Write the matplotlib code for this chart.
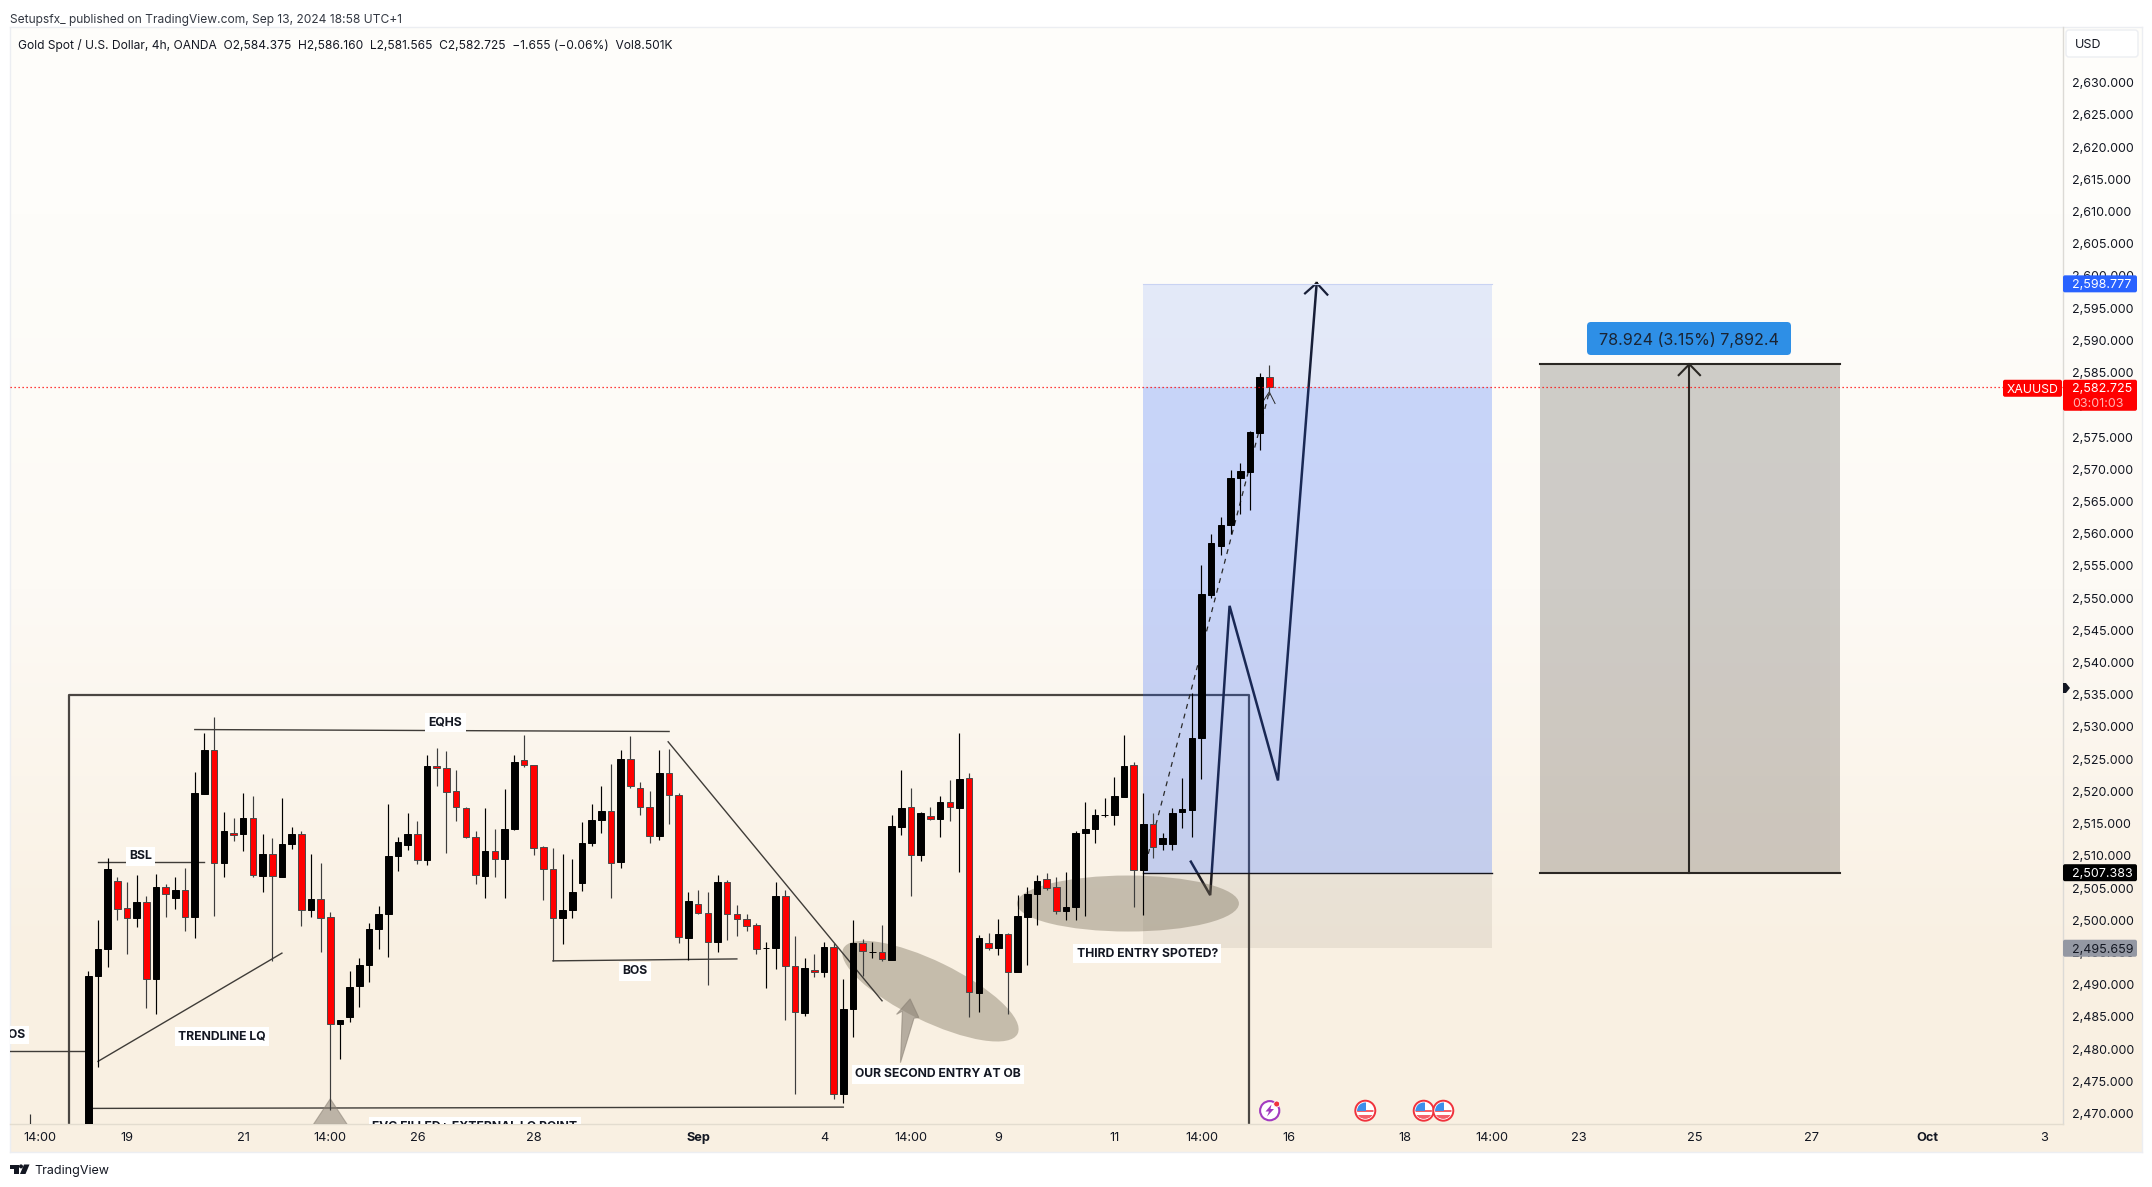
from matplotlib import pyplot as plt
from matplotlib.patches import Circle, Ellipse, FancyBboxPatch, Polygon, Rectangle
from matplotlib.transforms import IdentityTransform
import numpy as np

plt.rcParams['font.family'] = ['Inter', 'DejaVu Sans']

WIDTH, HEIGHT = 2152, 1187

# candles (black = up, red = down)
opens = [2463.0, 2491.3, 2495.5, 2506.1, 2501.9, 2500.3, 2502.9, 2490.9, 2505.2, 2503.4,
         2504.7, 2500.5, 2519.6, 2526.5, 2508.9, 2513.6, 2513.4, 2515.9, 2506.9, 2510.3,
         2506.7, 2511.8, 2513.4, 2501.6, 2503.3, 2500.5, 2483.9, 2485.0, 2489.8, 2493.0,
         2498.6, 2501.0, 2510.0, 2511.7, 2513.4, 2509.3, 2523.9, 2523.7, 2520.0, 2517.5,
         2513.0, 2506.9, 2510.8, 2509.5, 2514.1, 2524.9, 2524.1, 2511.3, 2507.9, 2500.3,
         2501.6, 2505.8, 2512.0, 2515.5, 2516.9, 2509.0, 2525.1, 2520.6, 2517.6, 2513.1,
         2522.8, 2519.5, 2497.2, 2502.6, 2501.1, 2496.6, 2506.0, 2501.0, 2500.2, 2499.2,
         2495.7, 2495.7, 2503.7, 2492.9, 2485.6, 2492.3, 2491.9, 2495.8, 2473.0, 2486.2,
         2496.5, 2495.0, 2495.0, 2493.8, 2514.5, 2517.6, 2510.1, 2516.2, 2515.7, 2518.3,
         2517.5, 2522.1, 2488.7, 2496.5, 2495.7, 2497.9, 2492.0, 2500.5, 2504.1, 2506.4,
         2505.2, 2501.4, 2502.1, 2513.5, 2514.2, 2516.3, 2516.3, 2519.2, 2524.1, 2507.8,
         2515.0, 2511.8, 2511.9, 2516.8, 2517.1, 2528.3, 2550.5, 2558.1, 2561.3, 2568.7,
         2569.5, 2575.7, 2584.375]
closes = [2491.4, 2495.6, 2507.9, 2501.7, 2500.3, 2502.9, 2490.9, 2505.2, 2504.0, 2504.7,
          2500.5, 2519.7, 2526.5, 2508.9, 2513.8, 2513.3, 2515.9, 2507.0, 2510.3, 2506.9,
          2511.9, 2513.4, 2501.6, 2503.3, 2500.3, 2483.9, 2484.5, 2489.7, 2493.1, 2498.7,
          2501.0, 2510.0, 2512.2, 2513.4, 2509.4, 2524.0, 2523.6, 2519.9, 2517.6, 2513.0,
          2507.1, 2510.8, 2509.5, 2514.2, 2524.5, 2524.1, 2511.2, 2507.9, 2500.3, 2501.6,
          2504.4, 2512.0, 2515.6, 2516.9, 2508.9, 2525.1, 2520.8, 2517.6, 2513.1, 2522.8,
          2519.5, 2497.4, 2503.0, 2501.1, 2496.6, 2506.0, 2501.0, 2500.2, 2499.1, 2495.6,
          2495.7, 2503.7, 2492.9, 2485.7, 2492.6, 2492.0, 2495.8, 2473.0, 2486.3, 2496.5,
          2495.3, 2495.0, 2494.0, 2514.6, 2517.5, 2510.2, 2516.6, 2515.7, 2518.3, 2517.6,
          2522.0, 2488.8, 2497.3, 2495.7, 2497.9, 2491.9, 2500.6, 2504.1, 2506.1, 2505.0,
          2501.5, 2502.1, 2513.6, 2514.2, 2516.4, 2516.3, 2519.3, 2524.0, 2507.8, 2515.0,
          2511.4, 2512.7, 2516.7, 2517.2, 2528.3, 2550.6, 2558.5, 2561.4, 2568.7, 2569.8,
          2575.8, 2584.3, 2582.725]
highs = [2492.2, 2500.0, 2509.6, 2506.7, 2505.9, 2507.0, 2503.7, 2507.2, 2505.7, 2506.7,
         2508.1, 2523.0, 2529.0, 2531.5, 2516.8, 2515.8, 2519.7, 2519.3, 2513.4, 2512.7,
         2518.9, 2514.4, 2513.9, 2510.3, 2508.9, 2501.3, 2484.5, 2492.1, 2494.2, 2499.6,
         2502.2, 2518.1, 2513.0, 2516.7, 2515.4, 2525.6, 2526.7, 2526.2, 2523.3, 2517.6,
         2513.9, 2517.4, 2514.1, 2520.3, 2525.7, 2528.8, 2524.1, 2511.5, 2511.2, 2510.3,
         2509.5, 2515.2, 2518.0, 2520.9, 2524.2, 2526.5, 2528.6, 2521.5, 2520.0, 2526.5,
         2526.6, 2519.7, 2504.4, 2504.7, 2504.4, 2507.1, 2506.3, 2502.4, 2501.0, 2499.5,
         2496.7, 2506.0, 2504.7, 2497.5, 2494.1, 2494.7, 2496.7, 2496.4, 2490.9, 2500.1,
         2497.1, 2496.7, 2499.2, 2516.4, 2523.3, 2520.5, 2516.8, 2517.6, 2519.3, 2521.7,
         2529.0, 2522.8, 2497.7, 2498.1, 2500.2, 2498.1, 2503.9, 2505.1, 2507.0, 2507.4,
         2506.7, 2507.5, 2513.9, 2518.3, 2517.3, 2518.9, 2522.3, 2528.8, 2524.5, 2519.8,
         2516.7, 2513.6, 2517.5, 2522.1, 2535.2, 2555.1, 2559.9, 2562.6, 2569.9, 2570.9,
         2575.9, 2585.0, 2586.16]
lows = [2460.0, 2477.2, 2492.8, 2500.1, 2494.7, 2498.9, 2486.4, 2485.4, 2500.5, 2501.8,
        2498.4, 2497.2, 2519.6, 2500.6, 2506.7, 2512.3, 2510.8, 2506.7, 2504.4, 2493.7,
        2506.7, 2511.1, 2499.1, 2500.5, 2495.1, 2470.6, 2478.5, 2484.2, 2486.5, 2490.4,
        2495.5, 2494.3, 2507.7, 2510.9, 2508.7, 2508.6, 2520.8, 2510.4, 2515.4, 2512.8,
        2505.6, 2503.5, 2506.7, 2503.5, 2514.0, 2523.8, 2510.1, 2503.1, 2493.7, 2496.3,
        2500.4, 2504.6, 2511.5, 2513.6, 2503.5, 2508.1, 2520.5, 2516.4, 2512.0, 2512.4,
        2514.9, 2496.5, 2493.9, 2500.9, 2489.9, 2495.1, 2496.9, 2497.5, 2498.4, 2494.7,
        2489.5, 2492.5, 2484.5, 2473.0, 2485.2, 2491.2, 2491.2, 2472.3, 2471.6, 2481.9,
        2491.3, 2494.2, 2493.7, 2493.8, 2513.2, 2503.8, 2509.2, 2515.6, 2512.9, 2515.4,
        2507.5, 2485.0, 2485.7, 2495.4, 2494.6, 2485.5, 2492.0, 2493.0, 2499.2, 2504.7,
        2501.0, 2500.0, 2500.0, 2500.7, 2512.0, 2516.0, 2514.8, 2519.1, 2502.1, 2500.8,
        2509.7, 2510.9, 2510.9, 2514.3, 2512.9, 2521.9, 2550.0, 2556.7, 2559.9, 2563.0,
        2563.6, 2573.0, 2581.565]

early_candle_x = -6
early_candle_high = 2469.9

price_ticks = list(range(2470, 2631, 5))
time_ticks = [-5, 4, 16, 25, 34, 46, 63, 76, 85, 94, 106, 115, 124, 136, 145, 154, 166, 178, 190, 202]
time_labels = ['14:00', '19', '21', '14:00', '26', '28', 'Sep', '4', '14:00', '9', '11', '14:00',
               '16', '18', '14:00', '23', '25', '27', 'Oct', '3']

last_close = 2582.725
target_price = 2598.777
entry_price = 2507.383
stop_price = 2495.659
range_top = 2586.307

# drawn lines on the chart, (bar index, price)
zigzag_x = [113.9, 115.9, 117.9, 122.9, 126.9]
zigzag_y = [2509.1, 2503.9, 2548.8, 2521.7, 2598.9]
head_x = [125.7, 126.9, 128.0]
head_y = [2597.3, 2598.9, 2597.1]
arrow_x = [83.5, 84.9, 85.8, 85.3, 83.9, 84.1]
arrow_y = [2485.4, 2487.8, 2484.9, 2484.8, 2477.9, 2485.9]
guide_lines = [((1.0, 20.0), (2478.1, 2494.9)),
               ((1.0, 12.0), (2509.1, 2509.1)),
               ((11.0, 60.0), (2529.6, 2529.3)),
               ((59.9, 82.0), (2527.7, 2487.5)),
               ((48.0, 67.0), (2493.7, 2494.0)),
               ((0.35, 78.0), (2470.8, 2471.0)),
               ((-8.1, 0.0), (2479.75, 2479.75))]
notes = [('BSL', 5.4, 2509.9), ('EQHS', 36.9, 2530.7), ('BOS', 56.5, 2492.1),
         ('TRENDLINE LQ', 13.8, 2482.0), ('OUR SECOND ENTRY AT OB', 87.8, 2476.1),
         ('THIRD ENTRY SPOTED?', 109.4, 2494.8), ('FVG FILLED+ EXTERNAL LQ POINT', 39.9, 2468.0),
         ('BOS', -7.8, 2482.2)]

fig = plt.figure(figsize=(WIDTH / 100, HEIGHT / 100), dpi=100, facecolor='white')


def pane_rect(left, top, right, bottom):
    return [left / WIDTH, 1 - bottom / HEIGHT, (right - left) / WIDTH, (bottom - top) / HEIGHT]


# background wash behind chart, price scale and time scale
bg = fig.add_axes(pane_rect(10, 27, 2142, 1152), zorder=0)
wash = np.array([[[254, 253, 250]], [[253, 250, 245]], [[249, 240, 226]]], dtype=np.uint8)
bg.imshow(wash, aspect='auto', interpolation='bilinear', extent=(0, 1, 0, 1))
bg.set_xticks([])
bg.set_yticks([])
for spine in bg.spines.values():
    spine.set_color('#eceef2')
    spine.set_linewidth(1.0)

ax = fig.add_axes(pane_rect(10, 27, 2063, 1124), zorder=1)
ax.patch.set_visible(False)
ax.set_xlim(-8.09, 204.0)
ax.set_ylim(2468.38, 2638.64)
for name in ('top', 'left'):
    ax.spines[name].set_visible(False)
ax.spines['right'].set_color('#dcdad6')
ax.spines['bottom'].set_color('#e3dccf')
ax.spines['right'].set_linewidth(1.0)
ax.spines['bottom'].set_linewidth(1.0)

ax.yaxis.tick_right()
ax.set_yticks(price_ticks)
ax.set_yticklabels([f'{p:,.3f}' for p in price_ticks])
ax.set_xticks(time_ticks)
ax.set_xticklabels(time_labels)
ax.tick_params(axis='y', length=0, pad=6.5, labelsize=9, labelcolor='#131722')
ax.tick_params(axis='x', length=0, pad=6, labelsize=9.2, labelcolor='#131722')
for label in ax.get_xticklabels():
    if label.get_text() in ('Sep', 'Oct'):
        label.set_fontweight('bold')

# big outlined box and zigzag sit under the position tool
ax.plot([-2, -2, 119.9, 119.9], [2460, 2534.9, 2534.9, 2460], color='#4a4642', lw=1.6, zorder=2)
ax.plot(zigzag_x, zigzag_y, color='#15151c', lw=1.8, zorder=2, solid_joinstyle='miter')
ax.plot(head_x, head_y, color='#15151c', lw=1.6, zorder=2)

# long position tool
ax.fill_between([109, 145], entry_price, target_price, color='#2962ff', alpha=0.12, lw=0, zorder=3)
ax.fill_between([109, 145], entry_price, last_close, color='#2962ff', alpha=0.15, lw=0, zorder=3)
ax.fill_between([109, 145], stop_price, entry_price, color='#64584a', alpha=0.10, lw=0, zorder=3)
ax.plot([109, 145], [target_price, target_price], color='#c9d3f3', lw=0.8, zorder=3)
ax.plot([109, 145], [entry_price, entry_price], color='#15151c', lw=1.0, zorder=3.5)

# measured range on the right
ax.fill_between([150, 181], entry_price, range_top, color='#2a2520', alpha=0.22, lw=0, zorder=3)
ax.plot([150, 181], [range_top, range_top], color='#2a2723', lw=1.5, zorder=3.5)
ax.plot([150, 181], [entry_price, entry_price], color='#2a2723', lw=1.5, zorder=3.5)
ax.plot([165.4, 165.4], [entry_price, range_top], color='#2a2723', lw=1.5, zorder=3.5)
ax.plot([164.3, 165.4, 166.5], [range_top - 1.7, range_top, range_top - 1.7], color='#2a2723', lw=1.5,
        zorder=3.5)

# shaded entry ellipses, sized in screen pixels
ellipses = [(87.0, 2489.0, 194, 60, -26), (107.4, 2502.6, 222, 56, 0)]
for cx, cy, w, h, angle in ellipses:
    centre = ax.transData.transform((cx, cy))
    ax.add_patch(Ellipse(centre, w, h, angle=angle, transform=IdentityTransform(),
                         facecolor='#786e5a', alpha=0.40, lw=0, zorder=4))

ax.add_patch(Polygon(np.column_stack([arrow_x, arrow_y]), closed=True, facecolor='#8a8175', alpha=0.6,
                     edgecolor='#8a8175', lw=0.8, zorder=4.5))
ax.add_patch(Polygon([(22.24, 2466), (25.0, 2472.3), (27.76, 2466)], closed=True, facecolor='#8a8175',
                     alpha=0.55, lw=0.8, edgecolor='#8a8175', zorder=4.5))

for xs, ys in guide_lines:
    ax.plot(xs, ys, color='#3f3c38', lw=1.0, zorder=4.2)
ax.plot([109.5, 122], [2510.3, 2582.0], color='#2a2a2a', lw=0.9, ls=(0, (4, 4)), zorder=4.2)
ax.plot([121.3, 122, 122.6], [2580.4, 2582.0, 2580.2], color='#2a2a2a', lw=0.7, zorder=4.2)

# candles
x = np.arange(len(opens))
opens_a, closes_a = np.array(opens), np.array(closes)
is_down = closes_a < opens_a
body_low = np.minimum(opens_a, closes_a)
body_h = np.abs(closes_a - opens_a)
ax.vlines(x, lows, highs, color=np.where(is_down, '#3d3d3d', '#000000'), lw=0.85, zorder=5)
ax.vlines(early_candle_x, 2460, early_candle_high, color='#333333', lw=0.85, zorder=5)
ax.bar(x, body_h, bottom=body_low, width=0.68, color=np.where(is_down, '#ff0000', '#000000'),
       edgecolor=np.where(is_down, '#4a4a4a', '#000000'), linewidth=0.7, zorder=6)

ax.axhline(last_close, color='#ff0000', lw=0.9, ls=(0, (1, 2.2)), zorder=6.5)

for text, nx, ny in notes:
    ax.text(nx, ny, text, ha='center', va='center', fontsize=8.8, fontweight='bold', color='#131722',
            zorder=7, clip_on=True, bbox=dict(facecolor='white', edgecolor='none', pad=2.5))

# overlay in screen pixels for the scale tags, header and logo
top = fig.add_axes([0, 0, 1, 1], zorder=3)
top.set_xlim(0, WIDTH)
top.set_ylim(HEIGHT, 0)
top.axis('off')


def price_y(price):
    return HEIGHT - ax.transData.transform((0, price))[1]


def tag(left, right, y_top, y_bottom, color, radius=2):
    top.add_patch(FancyBboxPatch((left + radius, y_top + radius), right - left - 2 * radius,
                                 y_bottom - y_top - 2 * radius, boxstyle=f'round,pad={radius}',
                                 facecolor=color, edgecolor='none'))


def scale_tag(price, color, text_color):
    y = price_y(price)
    tag(2063, 2137, y - 8.5, y + 8.5, color)
    top.text(2072, y, f'{price:,.3f}', color=text_color, fontsize=9, va='center_baseline')


scale_tag(target_price, '#2962ff', 'white')
scale_tag(entry_price, '#000000', 'white')
scale_tag(stop_price, '#9498a3', '#131722')

y_last = price_y(last_close)
tag(2063, 2137, y_last - 7.5, y_last + 23.5, '#ff0000')
top.text(2072, y_last, f'{last_close:,.3f}', color='white', fontsize=9, va='center_baseline')
top.text(2072, y_last + 15, '03:01:03', color='#ffb3b3', fontsize=9, va='center_baseline')
tag(2003, 2062, y_last - 7.5, y_last + 9.5, '#ff0000')
top.text(2032.5, y_last + 1, 'XAUUSD', color='white', fontsize=8.8, ha='center', va='center_baseline')

top.add_patch(FancyBboxPatch((2069, 33), 66, 21, boxstyle='round,pad=3', facecolor='#ffffff',
                             edgecolor='#eceef2', lw=1.0))
top.text(2075, 44, 'USD', color='#131722', fontsize=9, va='center_baseline')
top.add_patch(Polygon([(2063, 683), (2066, 683), (2070, 688), (2066, 693), (2063, 693)], facecolor='#131722'))

tag(1587, 1791, 322, 355, '#2e8fe6', radius=4)
top.text(1689, 338.5, '78.924 (3.15%) 7,892.4', color='#1a2433', fontsize=11.6, ha='center',
         va='center_baseline')

top.text(10.5, 18, 'Setupsfx_ published on TradingView.com, Sep 13, 2024 18:58 UTC+1', color='#333842',
         fontsize=8.65, va='center_baseline')
top.text(18, 44, 'Gold Spot / U.S. Dollar, 4h, OANDA  O2,584.375  H2,586.160  L2,581.565  C2,582.725  '
         '\u22121.655 (\u22120.06%)  Vol8.501K', color='#131722', fontsize=8.65, va='center_baseline')

# logo
top.add_patch(Polygon([(10, 1164.5), (18.5, 1164.5), (18.5, 1174), (14, 1174), (14, 1168.5), (10, 1168.5)],
                      facecolor='#131722'))
top.add_patch(Circle((21, 1166.4), 2.0, facecolor='#131722'))
top.add_patch(Polygon([(24, 1164.5), (29.5, 1164.5), (25.5, 1174), (20, 1174)], facecolor='#131722'))
top.text(34, 1169.5, 'TradingView', color='#131722', fontsize=9, va='center_baseline')


def us_flag(cx, cy=1110.7):
    ring = Circle((cx, cy), 10, facecolor='white', edgecolor='#f0323c', lw=1.4)
    top.add_patch(ring)
    clip = Circle((cx, cy), 8.2, transform=top.transData)
    for dy in (-1.0, 4.5):
        stripe = Rectangle((cx - 9, cy + dy), 18, 2.6, facecolor='#f4606a')
        top.add_patch(stripe)
        stripe.set_clip_path(clip)
    lower = Rectangle((cx - 9, cy + 4.5), 18, 5, facecolor='#f4606a')
    top.add_patch(lower)
    lower.set_clip_path(clip)
    field = Rectangle((cx - 9, cy - 9), 10, 9, facecolor='#3d8fea')
    top.add_patch(field)
    field.set_clip_path(clip)


for flag_x in (1365.3, 1423.7, 1443.3):
    us_flag(flag_x)

top.add_patch(Circle((1269.7, 1110.7), 9.6, facecolor='white', edgecolor='#a23bc0', lw=1.5))
top.add_patch(Polygon([(1271.5, 1104.5), (1265.5, 1111.5), (1269, 1111.5), (1267, 1116.5), (1274, 1109),
                       (1270.5, 1109)], facecolor='#a23bc0'))
top.add_patch(Circle((1276.7, 1104), 3.0, facecolor='#f0323c', edgecolor='white', lw=0.6))

fig.savefig('out.png', dpi=100)
